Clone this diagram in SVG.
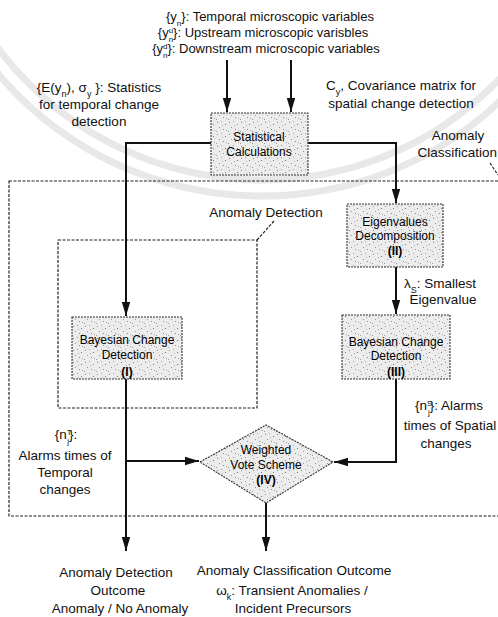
<svg xmlns="http://www.w3.org/2000/svg" width="498" height="617" viewBox="0 0 498 617">
<style>
text{font-family:"Liberation Sans",Arial,sans-serif;fill:#111;}
.lbl{font-size:13.5px;text-anchor:middle;}
.top{font-size:13px;text-anchor:middle;}
.box{font-size:12px;text-anchor:middle;fill:#000;}
.node{fill:url(#speck);stroke:#333;stroke-width:1.1;stroke-dasharray:2 1;}
.region{fill:none;stroke:#222;stroke-width:1.2;stroke-dasharray:3 1.5;}
.conn{fill:none;stroke:#111;stroke-width:2;}
.wm{fill:none;stroke:#d9d9d9;stroke-width:7;opacity:0.6;}
</style>
<defs>
<pattern id="speck" width="12" height="12" patternUnits="userSpaceOnUse">
<rect width="12" height="12" fill="#ececec"/>
<rect x="1" y="2" width="1" height="1" fill="#8a8a8a"/>
<rect x="5" y="1" width="1" height="1" fill="#a0a0a0"/>
<rect x="9" y="4" width="1" height="1" fill="#7a7a7a"/>
<rect x="3" y="7" width="1" height="1" fill="#999"/>
<rect x="7" y="9" width="1" height="1" fill="#8a8a8a"/>
<rect x="10" y="10" width="1" height="1" fill="#aaa"/>
<rect x="0" y="11" width="1" height="1" fill="#999"/>
<rect x="6" y="5" width="1" height="1" fill="#b0b0b0"/>
</pattern>
<marker id="ah" markerUnits="userSpaceOnUse" markerWidth="14" markerHeight="10" refX="14" refY="5" orient="auto">
<path d="M0,0.8 L14,5 L0,9.2 z" fill="#111"/>
</marker>
</defs>
<rect width="498" height="617" fill="#fff"/>
<g id="watermark">
<circle class="wm" cx="262" cy="-150" r="330"/>
<circle class="wm" cx="262" cy="-150" r="346"/>
</g>
<g id="regions">
<rect id="anomaly-classification-region" class="region" x="9" y="181" width="510" height="335"/>
<rect id="anomaly-detection-region" class="region" x="58" y="240" width="199" height="168"/>
<path class="region" d="M257,240 L274,221"/>
<path class="region" d="M490,163 L498,175"/>
</g>
<g id="connectors">
<path class="conn" d="M227,60 V112" marker-end="url(#ah)"/>
<path class="conn" d="M291,60 V112" marker-end="url(#ah)"/>
<path class="conn" d="M211,143 H126 V316" marker-end="url(#ah)"/>
<path class="conn" d="M308,143 H396 V203" marker-end="url(#ah)"/>
<path class="conn" d="M396,267 V314" marker-end="url(#ah)"/>
<path class="conn" d="M126,379 V551" marker-end="url(#ah)"/>
<path class="conn" d="M126,461 H199" marker-end="url(#ah)"/>
<path class="conn" d="M396,379 V462 H334" marker-end="url(#ah)"/>
<path class="conn" d="M266,503 V551" marker-end="url(#ah)"/>
</g>
<g id="statistical-calculations">
<rect class="node" x="211" y="113" width="97" height="62"/>
<text class="box" x="259" y="141">Statistical</text>
<text class="box" x="259" y="156">Calculations</text>
</g>
<g id="eigenvalues-decomposition">
<rect class="node" x="347" y="204" width="96" height="63"/>
<text class="box" x="395" y="226">Eigenvalues</text>
<text class="box" x="395" y="240">Decomposition</text>
<text class="box" x="395" y="255" font-weight="bold">(II)</text>
</g>
<g id="bayesian-change-detection-1">
<rect class="node" x="72" y="317" width="110" height="62"/>
<text class="box" x="127" y="344">Bayesian Change</text>
<text class="box" x="127" y="359">Detection</text>
<text class="box" x="127" y="376" font-weight="bold">(I)</text>
</g>
<g id="bayesian-change-detection-3">
<rect class="node" x="342" y="315" width="108" height="64"/>
<text class="box" x="396" y="346">Bayesian Change</text>
<text class="box" x="396" y="360">Detection</text>
<text class="box" x="396" y="376" font-weight="bold">(III)</text>
</g>
<g id="weighted-vote-scheme">
<path class="node" d="M200,462 L266,425 L333,462 L266,503 z"/>
<text class="box" x="266" y="454">Weighted</text>
<text class="box" x="266" y="469">Vote Scheme</text>
<text class="box" x="266" y="484" font-weight="bold">(IV)</text>
</g>
<g id="labels">
<text class="top" x="270" y="21">{y<tspan font-size="8" baseline-shift="sub">n</tspan>}: Temporal microscopic variables</text>
<text class="top" x="263" y="37">{y<tspan font-size="8" baseline-shift="super">u</tspan><tspan font-size="8" dx="-4.5" baseline-shift="sub">n</tspan>}: Upstream microscopic varisbles</text>
<text class="top" x="266" y="53">{y<tspan font-size="8" baseline-shift="super">d</tspan><tspan font-size="8" dx="-4.5" baseline-shift="sub">n</tspan>}: Downstream microscopic variables</text>
<text class="lbl" x="99" y="92">{E(y<tspan font-size="9" baseline-shift="sub">n</tspan>), σ<tspan font-size="9" baseline-shift="sub">y</tspan> }: Statistics</text>
<text class="lbl" x="99" y="109">for temporal change</text>
<text class="lbl" x="99" y="126">detection</text>
<text class="lbl" x="401" y="90">C<tspan font-size="9" baseline-shift="sub">y</tspan>, Covariance matrix for</text>
<text class="lbl" x="401" y="108">spatial change detection</text>
<text class="lbl" x="458" y="140">Anomaly</text>
<text class="lbl" x="497" y="157" style="text-anchor:end">Classification</text>
<text class="lbl" x="266" y="217">Anomaly Detection</text>
<text class="lbl" x="440" y="288">λ<tspan font-size="9" baseline-shift="sub">S</tspan>: Smallest</text>
<text class="lbl" x="443" y="304">Eigenvalue</text>
<text class="lbl" x="449" y="410">{n<tspan font-size="8" baseline-shift="super">S</tspan><tspan font-size="8" dx="-4.5" baseline-shift="sub">j</tspan>}: Alarms</text>
<text class="lbl" x="450" y="430">times of Spatial</text>
<text class="lbl" x="446" y="448">changes</text>
<text class="lbl" x="66" y="439">{n<tspan font-size="8" baseline-shift="super">T</tspan><tspan font-size="8" dx="-4.5" baseline-shift="sub">j</tspan>}:</text>
<text class="lbl" x="65" y="460">Alarms times of</text>
<text class="lbl" x="65" y="477">Temporal</text>
<text class="lbl" x="65" y="494">changes</text>
<text class="lbl" x="116" y="577">Anomaly Detection</text>
<text class="lbl" x="118" y="595">Outcome</text>
<text class="lbl" x="120" y="613">Anomaly / No Anomaly</text>
<text class="lbl" x="294" y="575">Anomaly Classification Outcome</text>
<text class="lbl" x="292" y="595">ω<tspan font-size="9" baseline-shift="sub">k</tspan>: Transient Anomalies /</text>
<text class="lbl" x="293" y="613">Incident Precursors</text>
</g>
</svg>
